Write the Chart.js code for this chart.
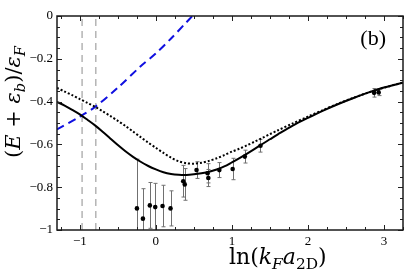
<!DOCTYPE html>
<html><head><meta charset="utf-8">
<script src="https://cdn.jsdelivr.net/npm/chart.js@4"></script>
<style>html,body{margin:0;padding:0;background:#fff;} canvas{display:block}</style>
</head><body>
<canvas id="c" width="407" height="275"></canvas>
<script>
// ---- data ----
const xTickValues = [-1, 0, 1, 2, 3];
const yTickValues = [-1, -0.8, -0.6, -0.4, -0.2, 0];

const solidX = [-1.3, -1.2, -1.1, -1.0, -0.9, -0.8, -0.7, -0.6, -0.5, -0.4, -0.3, -0.2, -0.1, 0.0, 0.1, 0.2, 0.3, 0.4, 0.5, 0.6, 0.7, 0.8, 0.9, 1.0, 1.1, 1.2, 1.3, 1.4, 1.5, 1.6, 1.8, 2.0, 2.2, 2.4, 2.6, 2.8, 3.0, 3.25];
const solidY = [-0.401, -0.419, -0.439, -0.460, -0.485, -0.511, -0.541, -0.572, -0.603, -0.632, -0.658, -0.681, -0.701, -0.717, -0.730, -0.738, -0.742, -0.743, -0.740, -0.735, -0.728, -0.717, -0.703, -0.684, -0.664, -0.643, -0.621, -0.598, -0.576, -0.554, -0.512, -0.476, -0.442, -0.411, -0.383, -0.357, -0.334, -0.312];

const dottedX = [-1.3, -1.2, -1.1, -1.0, -0.9, -0.8, -0.7, -0.6, -0.5, -0.4, -0.3, -0.2, -0.1, 0.0, 0.1, 0.2, 0.3, 0.4, 0.5, 0.6, 0.7, 0.8, 0.9, 1.0, 1.1, 1.2, 1.3, 1.4, 1.5, 1.6, 1.8, 2.0, 2.2, 2.4, 2.6, 2.8, 3.0, 3.25];
const dottedY = [-0.336, -0.353, -0.370, -0.388, -0.406, -0.424, -0.445, -0.467, -0.490, -0.514, -0.540, -0.566, -0.592, -0.616, -0.640, -0.662, -0.679, -0.688, -0.690, -0.686, -0.677, -0.665, -0.650, -0.634, -0.620, -0.604, -0.587, -0.570, -0.552, -0.535, -0.502, -0.470, -0.439, -0.409, -0.382, -0.357, -0.335, -0.311];

const blueX = [-1.3, -1.0, -0.8, -0.5, -0.2, 0, 0.2, 0.4, 0.48];
const blueY = [-0.53, -0.47, -0.425, -0.335, -0.235, -0.175, -0.105, -0.03, 0];

const guideX = [-0.97, -0.79];

const dataX = [-0.249, -0.17, -0.079, -0.008, 0.088, 0.193, 0.36, 0.38, 0.535, 0.68, 0.69, 0.835, 1.01, 1.17, 1.376, 2.87, 2.93];
const dataY = [-0.899, -0.947, -0.885, -0.893, -0.888, -0.899, -0.772, -0.787, -0.72, -0.735, -0.757, -0.72, -0.715, -0.657, -0.606, -0.359, -0.357];
const dataErr = [0.23, 0.14, 0.107, 0.111, 0.097, 0.082, 0.074, 0.074, 0.039, 0.045, 0.04, 0.035, 0.05, 0.03, 0.03, 0.02, 0.015];

// ---- helpers ----
const pts = (xs, ys) => xs.map((x, i) => ({x, y: ys[i]}));
const fmt = v => (Math.abs(v) < 1e-9 ? '0' : (v < 0 ? '\u2212' : '') + String(Math.round(Math.abs(v) * 10) / 10));
const SERIF = '"Liberation Serif", "DejaVu Serif", serif';
const TSERIF = '"DejaVu Serif", "Liberation Serif", serif';

function segFont(s, size) {
  const sz = s.sub ? size * 0.7 : size;
  return (s.i ? 'italic ' : '') + sz + 'px ' + TSERIF;
}
function drawRich(ctx, segs, size) {
  let x = 0;
  for (const s of segs) {
    ctx.font = segFont(s, size);
    ctx.fillText(s.t, x, s.sub ? size * 0.24 : 0);
    x += ctx.measureText(s.t).width;
  }
  return x;
}
function richWidth(ctx, segs, size) {
  let w = 0;
  for (const s of segs) {
    ctx.font = segFont(s, size);
    w += ctx.measureText(s.t).width;
  }
  return w;
}

const xTitle = [{t: 'ln(', i: false}, {t: 'k', i: true}, {t: 'F', i: true, sub: true}, {t: 'a', i: true}, {t: '2D', i: false, sub: true}, {t: ')', i: false}];
const yTitle = [{t: '(', i: false}, {t: 'E', i: true}, {t: ' + ', i: false}, {t: '\u03b5', i: true}, {t: 'b', i: true, sub: true}, {t: ')/', i: false}, {t: '\u03b5', i: true}, {t: 'F', i: true, sub: true}];

const decor = {
  id: 'decor',
  beforeDatasetsDraw(chart) {
    const {ctx, chartArea: a, scales: {x, y}} = chart;
    ctx.save();
    ctx.beginPath();
    ctx.rect(a.left, a.top, a.right - a.left, a.bottom - a.top);
    ctx.clip();
    ctx.strokeStyle = '#707070';
    ctx.lineWidth = 1;
    for (let i = 0; i < dataX.length; i++) {
      const px = Math.round(x.getPixelForValue(dataX[i])) + 0.5;
      const p1 = y.getPixelForValue(dataY[i] + dataErr[i]);
      const p2 = y.getPixelForValue(dataY[i] - dataErr[i]);
      ctx.beginPath();
      ctx.moveTo(px, p1); ctx.lineTo(px, p2);
      ctx.moveTo(px - 2, p1); ctx.lineTo(px + 2, p1);
      ctx.moveTo(px - 2, p2); ctx.lineTo(px + 2, p2);
      ctx.stroke();
    }
    ctx.restore();
  },
  afterDraw(chart) {
    const {ctx, chartArea: a, scales: {x, y}} = chart;
    ctx.save();
    ctx.strokeStyle = '#222';
    ctx.lineWidth = 1;
    ctx.beginPath();
    for (let k = -5; k <= 13; k++) {
      const v = k * 0.25;
      if (v < x.min - 1e-9 || v > x.max + 1e-9) continue;
      const major = Math.abs(v - Math.round(v)) < 1e-9;
      const L = major ? 5 : 3;
      const px = Math.round(x.getPixelForValue(v)) + 0.5;
      ctx.moveTo(px, a.bottom); ctx.lineTo(px, a.bottom - L);
      ctx.moveTo(px, a.top); ctx.lineTo(px, a.top + L);
    }
    for (let k = -20; k <= 0; k++) {
      const v = k * 0.05;
      const major = (k % 4) === 0;
      const L = major ? 5 : 3;
      const py = Math.round(y.getPixelForValue(v)) + 0.5;
      ctx.moveTo(a.left, py); ctx.lineTo(a.left + L, py);
      ctx.moveTo(a.right, py); ctx.lineTo(a.right - L, py);
    }
    ctx.stroke();
    ctx.lineWidth = 1.5;
    ctx.strokeStyle = '#1a1a1a';
    ctx.strokeRect(a.left, a.top, a.right - a.left, a.bottom - a.top);
    ctx.fillStyle = '#000';
    ctx.textBaseline = 'alphabetic';
    ctx.textAlign = 'left';
    const xs = 22;
    ctx.save();
    ctx.translate(229, 264);
    drawRich(ctx, xTitle, xs);
    ctx.restore();
    const ys = 21;
    const wy = richWidth(ctx, yTitle, ys);
    ctx.save();
    ctx.translate(20, 102 + wy / 2);
    ctx.rotate(-Math.PI / 2);
    drawRich(ctx, yTitle, ys);
    ctx.restore();
    ctx.font = '22px ' + SERIF;
    ctx.textAlign = 'right';
    ctx.fillText('(b)', 386, 45);
    ctx.restore();
  }
};

const tickFont = {family: SERIF, size: 13};

new Chart(document.getElementById('c').getContext('2d'), {
  type: 'scatter',
  data: {
    datasets: [
      {data: pts(dataX, dataY), pointRadius: 2.3, pointBackgroundColor: '#000', pointBorderWidth: 0, showLine: false},
      {data: pts(solidX, solidY), showLine: true, borderColor: '#000', borderWidth: 2, pointRadius: 0, tension: 0.3},
      {data: pts(dottedX, dottedY), showLine: true, borderColor: '#000', borderWidth: 2, borderDash: [2, 2], pointRadius: 0, tension: 0.3},
      {data: pts(blueX, blueY), showLine: true, borderColor: '#1010e0', borderWidth: 2, borderDash: [8, 5], pointRadius: 0, tension: 0.3},
      {data: [{x: guideX[0], y: -1}, {x: guideX[0], y: 0}], showLine: true, borderColor: '#b4b4b4', borderWidth: 1.5, borderDash: [7, 5], pointRadius: 0},
      {data: [{x: guideX[1], y: -1}, {x: guideX[1], y: 0}], showLine: true, borderColor: '#b4b4b4', borderWidth: 1.5, borderDash: [7, 5], pointRadius: 0}
    ]
  },
  options: {
    responsive: false,
    animation: false,
    devicePixelRatio: 1,
    layout: {padding: {left: 0, right: 3, top: 16, bottom: 0}},
    plugins: {legend: {display: false}, tooltip: {enabled: false}},
    scales: {
      x: {
        type: 'linear', min: -1.3, max: 3.25,
        afterBuildTicks: s => { s.ticks = xTickValues.map(v => ({value: v})); },
        afterFit: s => { s.height = 45; },
        grid: {display: false, drawTicks: false},
        border: {display: false},
        ticks: {padding: 4, font: tickFont, color: '#000', callback: v => fmt(v), maxRotation: 0, autoSkip: false}
      },
      y: {
        type: 'linear', min: -1, max: 0,
        afterBuildTicks: s => { s.ticks = yTickValues.map(v => ({value: v})); },
        afterFit: s => { s.width = 57; },
        grid: {display: false, drawTicks: false},
        border: {display: false},
        ticks: {padding: 4, font: tickFont, color: '#000', callback: v => fmt(v), autoSkip: false}
      }
    }
  },
  plugins: [decor]
});
</script>
</body></html>
